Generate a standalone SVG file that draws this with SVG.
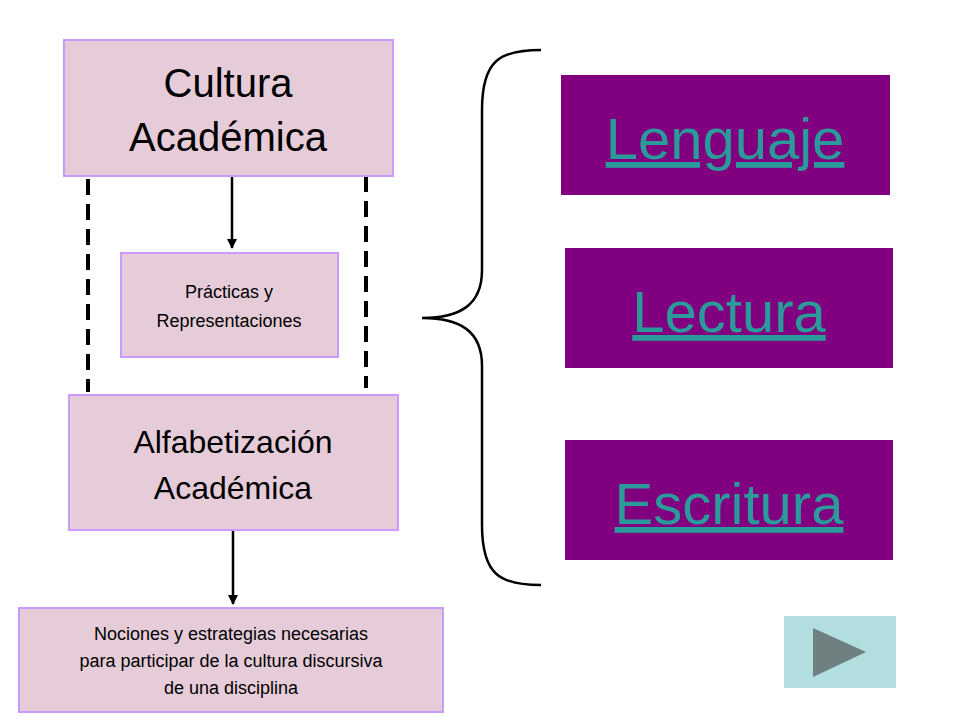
<svg xmlns="http://www.w3.org/2000/svg" width="960" height="720" viewBox="0 0 960 720">
<defs>
<style>
.n{fill:#E6CCD8;stroke:#CC99FF;stroke-width:2}
.p{fill:#800080}
.t{fill:#000;text-anchor:middle}
.l{fill:#2A9A9A;text-anchor:middle;font-size:58px;text-decoration:underline}
.c{stroke:#000;stroke-width:2.5;fill:none}
.d{stroke:#000;stroke-width:4;stroke-dasharray:16 9;fill:none}
</style>
<marker id="a" viewBox="0 0 10 10" refX="9" refY="5" markerWidth="4" markerHeight="4" orient="auto"><path d="M0,0L10,5L0,10z" fill="#000"/></marker>
</defs>
<rect width="960" height="720" fill="#fff"/>
<g id="connectors">
<line class="c" x1="232" y1="177" x2="232" y2="248" marker-end="url(#a)"/>
<line class="c" x1="233" y1="531" x2="233" y2="604" marker-end="url(#a)"/>
<line class="d" x1="88" y1="179" x2="88" y2="392"/>
<line class="d" x1="366" y1="176" x2="366" y2="388"/>
<path class="c" stroke-width="1.5" d="M541,50 C500,50 482,60 482,110 L482,270 C482,305 460,318 422,318 C460,318 482,331 482,366 L482,525 C482,575 500,585 541,585"/>
</g>
<g font-family="Liberation Sans, Arial, sans-serif">
<g id="cultura"><rect class="n" x="64" y="40" width="329" height="136"/>
<text class="t" font-size="40" x="228" y="97">Cultura</text><text class="t" font-size="40" x="228" y="151">Académica</text></g>
<g id="practicas"><rect class="n" x="121" y="253" width="217" height="104"/>
<text class="t" font-size="18" x="229" y="298">Prácticas y</text><text class="t" font-size="18" x="229" y="327">Representaciones</text></g>
<g id="alfabetizacion"><rect class="n" x="69" y="395" width="329" height="135"/>
<text class="t" font-size="32" x="233" y="453">Alfabetización</text><text class="t" font-size="32" x="233" y="499">Académica</text></g>
<g id="nociones"><rect class="n" x="19" y="608" width="424" height="104"/>
<text class="t" font-size="18" x="231" y="640">Nociones y estrategias necesarias</text>
<text class="t" font-size="18" x="231" y="667">para participar de la cultura discursiva</text>
<text class="t" font-size="18" x="231" y="694">de una disciplina</text></g>
<g id="lenguaje"><rect class="p" x="561" y="75" width="329" height="120"/><text class="l" x="725" y="159">Lenguaje</text></g>
<g id="lectura"><rect class="p" x="565" y="248" width="328" height="120"/><text class="l" x="729" y="332">Lectura</text></g>
<g id="escritura"><rect class="p" x="565" y="440" width="328" height="120"/><text class="l" x="729" y="524">Escritura</text></g>
</g>
<g id="boton"><rect x="784" y="616" width="112" height="72" fill="#B3DEE0"/><path d="M813,628L866,652L813,677z" fill="#6F8080"/></g>
</svg>
